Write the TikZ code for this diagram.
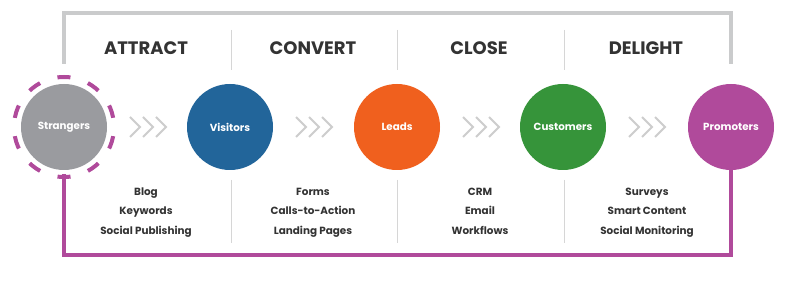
\documentclass[tikz,border=0pt]{standalone}
\usepackage{fontspec}
\setmainfont{Poppins}
\begin{document}
\begin{tikzpicture}[x=1pt,y=-1pt,
  stage/.style={circle,minimum size=86pt,inner sep=0pt,font=\fontsize{10.3}{12}\selectfont\bfseries,text=white},
  head/.style={font=\fontsize{18}{20}\selectfont\bfseries,text=txt},
  items/.style={font=\fontsize{10.4}{19.5}\selectfont\bfseries,text=txt,align=center},
  sep/.style={draw=sepgray,line width=0.8pt},
  chev/.style={draw=chevgray,line width=2pt},
]
\definecolor{txt}{HTML}{333333}
\definecolor{sepgray}{HTML}{D6D6D6}
\definecolor{linegray}{HTML}{CACBCC}
\definecolor{chevgray}{HTML}{CDCDCD}
\definecolor{cgray}{HTML}{9A9B9F}
\definecolor{cblue}{HTML}{22659A}
\definecolor{corange}{HTML}{F0601E}
\definecolor{cgreen}{HTML}{36943A}
\definecolor{cpurple}{HTML}{B04A9B}
\fill[white] (0,0) rectangle (792,288);
\useasboundingbox (0,0) rectangle (792,288);

\coordinate (top) at (0,13);
\coordinate (bot) at (0,255);

\node[stage,fill=cgray] (s) at (64,127) {Strangers};
\node[stage,fill=cblue] (v) at (230,127) {Visitors};
\node[stage,fill=corange] (l) at (397,127) {Leads};
\node[stage,fill=cgreen] (c) at (563,127) {Customers};
\node[stage,fill=cpurple] (p) at (731,127) {Promoters};

% dashed ring
\draw[cpurple,line width=4pt,dash pattern=on 13pt off 18.4pt,dash phase=22.2pt] (s.center) circle (50);

% top gray loop
\draw[linegray,line width=3.5pt] ([yshift=20pt]s.north) -- (s.north |- top) -| ([yshift=20pt]p.north);
% bottom purple loop
\draw[cpurple,line width=3.5pt] ([yshift=-4pt]s.south) -- (s.south |- bot) -| (p.south);

% chevrons
\foreach \cx in {148,314,481,647}{
  \foreach \k in {-13,0,13}{
    \draw[chev] (\cx+\k-5,117) -- (\cx+\k+5,127) -- (\cx+\k-5,137);
  }
}

% separators
\foreach \x in {231,397.5,564}{
  \draw[sep] (\x,30) -- (\x,70);
  \draw[sep] (\x,180) -- (\x,243);
}

% headers
\node[head] (h1) at (146,48) {ATTRACT};
\node[head] (h2) at (313,48) {CONVERT};
\node[head] (h3) at (479,48) {CLOSE};
\node[head] (h4) at (646,48) {DELIGHT};

% items
\node[items] (i1) at (146,211) {\strut Blog\\Keywords\\Social Publishing\strut};
\node[items] (i2) at (313,211) {\strut Forms\\Calls-to-Action\\Landing Pages\strut};
\node[items] (i3) at (480,211) {\strut CRM\\Email\\Workflows\strut};
\node[items] (i4) at (647,211) {\strut Surveys\\Smart Content\\Social Monitoring\strut};
\end{tikzpicture}
\end{document}
